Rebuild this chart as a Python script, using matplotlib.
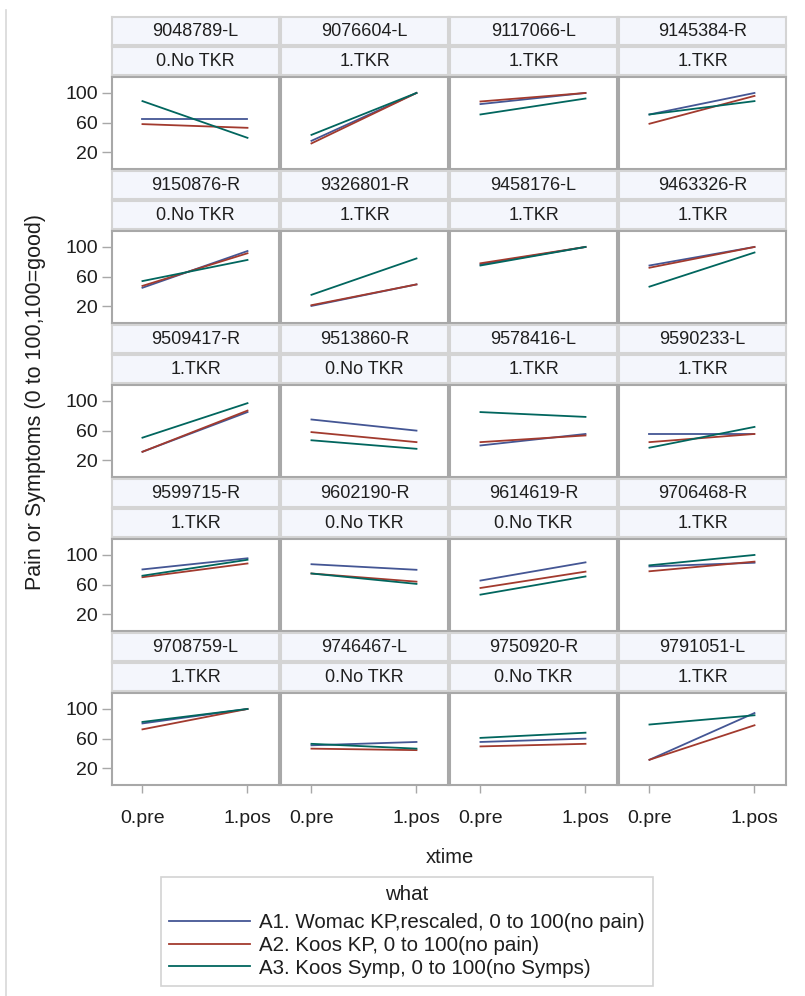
import matplotlib
matplotlib.use('Agg')
import matplotlib.pyplot as plt
from matplotlib.lines import Line2D

plt.rcParams['font.family'] = ['Liberation Sans', 'DejaVu Sans']

# ---------------- data ----------------
xtime = ['0.pre', '1.pos']
ids = ['9048789-L', '9076604-L', '9117066-L', '9145384-R',
       '9150876-R', '9326801-R', '9458176-L', '9463326-R',
       '9509417-R', '9513860-R', '9578416-L', '9590233-L',
       '9599715-R', '9602190-R', '9614619-R', '9706468-R',
       '9708759-L', '9746467-L', '9750920-R', '9791051-L']
groups = ['0.No TKR', '1.TKR', '1.TKR', '1.TKR',
          '0.No TKR', '1.TKR', '1.TKR', '1.TKR',
          '1.TKR', '0.No TKR', '1.TKR', '1.TKR',
          '1.TKR', '0.No TKR', '0.No TKR', '1.TKR',
          '1.TKR', '0.No TKR', '0.No TKR', '1.TKR']
womac_pre  = [64.5, 35.5, 85.0, 71.0, 45.0, 20.5, 76.5, 75.0, 31.5, 75.0, 40.0, 55.5, 80.5, 87.5, 65.5, 84.5, 80.5, 51.0, 55.5, 31.5]
womac_post = [64.5, 100, 100, 100, 94.5, 49.5, 100, 100, 85.0, 60.0, 55.5, 55.5, 95.5, 80.0, 90.0, 89.5, 100, 55.5, 60.0, 94.5]
koos_pre   = [58.0, 32.0, 88.5, 58.5, 47.5, 21.5, 78.0, 72.0, 31.5, 58.0, 44.5, 44.5, 70.0, 75.0, 55.5, 78.0, 72.5, 46.5, 49.5, 31.5]
koos_post  = [53.0, 100, 100, 96.0, 91.5, 49.5, 100, 100, 87.0, 44.5, 53.5, 55.5, 88.5, 64.0, 77.5, 91.0, 100, 44.5, 53.0, 78.0]
symp_pre   = [89.0, 43.5, 71.0, 71.0, 54.0, 35.5, 75.0, 46.5, 50.5, 47.0, 85.0, 37.0, 72.0, 75.0, 46.5, 86.0, 82.5, 53.0, 61.0, 79.0]
symp_post  = [39.5, 100, 92.5, 89.0, 82.5, 84.5, 100, 92.5, 97.0, 35.5, 78.5, 65.0, 93.5, 61.0, 71.0, 100, 100, 46.5, 68.0, 91.5]
series_names = ['A1. Womac KP,rescaled, 0 to 100(no pain)',
                'A2. Koos KP, 0 to 100(no pain)',
                'A3. Koos Symp, 0 to 100(no Symps)']
yticks = [20, 60, 100]

# ---------------- style ----------------
colors = ['#445694', '#A23A2E', '#01665E']
W, H = 805, 996
fig = plt.figure(figsize=(W / 100, H / 100), dpi=100)

def box(x0, y0, w, h):
    return [x0 / W, 1 - (y0 + h) / H, w / W, h / H]

col_lefts = [112, 281, 450, 619]
col_w = 167
hdr_fill = '#F4F6FC'
hdr_edge = '#D4D4D4'
frame_edge = '#A8A8A8'
txt = '#1E1E1E'

pre_vals = [womac_pre, koos_pre, symp_pre]
post_vals = [womac_post, koos_post, symp_post]

for i, pid in enumerate(ids):
    r, c = divmod(i, 4)
    ptop = 77 + 154 * r
    x0 = col_lefts[c]
    for k, (label, off) in enumerate([(pid, 60), (groups[i], 30)]):
        hax = fig.add_axes(box(x0, ptop - off, col_w, 28))
        hax.set_facecolor(hdr_fill)
        hax.set_xticks([]); hax.set_yticks([])
        for s in hax.spines.values():
            s.set_color(hdr_edge); s.set_linewidth(1.5)
        hax.text(0.5, 0.5, label, ha='center', va='center', fontsize=13,
                 color=txt, transform=hax.transAxes)
    ax = fig.add_axes(box(x0, ptop, col_w, 92))
    for j in range(3):
        ax.plot([0, 1], [pre_vals[j][i], post_vals[j][i]], color=colors[j], lw=1.3)
    ax.set_xlim(-0.29, 1.30)
    ax.set_ylim(-2.5, 121.5)
    for s in ax.spines.values():
        s.set_color(frame_edge); s.set_linewidth(1.5)
    ax.set_xticks([0, 1])
    ax.set_yticks(yticks)
    ax.tick_params(axis='both', color='#A8A8A8', labelcolor=txt, labelsize=14)
    ax.tick_params(axis='y', length=7, pad=3, width=1)
    ax.tick_params(axis='x', length=6, pad=12, width=1)
    if c != 0:
        ax.tick_params(axis='y', left=False, labelleft=False)
    if r != 4:
        ax.tick_params(axis='x', bottom=False, labelbottom=False)
    else:
        ax.set_xticklabels(xtime)

fig.text(36 / W, 1 - 402 / H, 'Pain or Symptoms (0 to 100,100=good)', rotation=90,
         ha='center', va='center', fontsize=15.5, color=txt)
fig.text(449.5 / W, 1 - 857 / H, 'xtime', ha='center', va='center', fontsize=14.5, color=txt)

fig.add_artist(Line2D([6 / W, 6 / W], [0, 1 - 10 / H], transform=fig.transFigure,
                      color='#D8D8D8', lw=1.2))

handles = [Line2D([], [], color=colors[j], lw=1.3) for j in range(3)]
leg = fig.legend(handles, series_names, title='what', loc='upper center',
                 bbox_to_anchor=(407 / W, 1 - 877 / H), frameon=True, fancybox=False,
                 edgecolor='#C8C8C8', fontsize=14.8, title_fontsize=14.8,
                 handlelength=3.9, handletextpad=0.45, labelspacing=0.18,
                 borderpad=0.4, borderaxespad=0)
leg._legend_box.sep = 6.5
leg.get_frame().set_linewidth(1.2)
for t in leg.get_texts():
    t.set_color(txt)
leg.get_title().set_color(txt)

fig.savefig('out.png', dpi=100)
